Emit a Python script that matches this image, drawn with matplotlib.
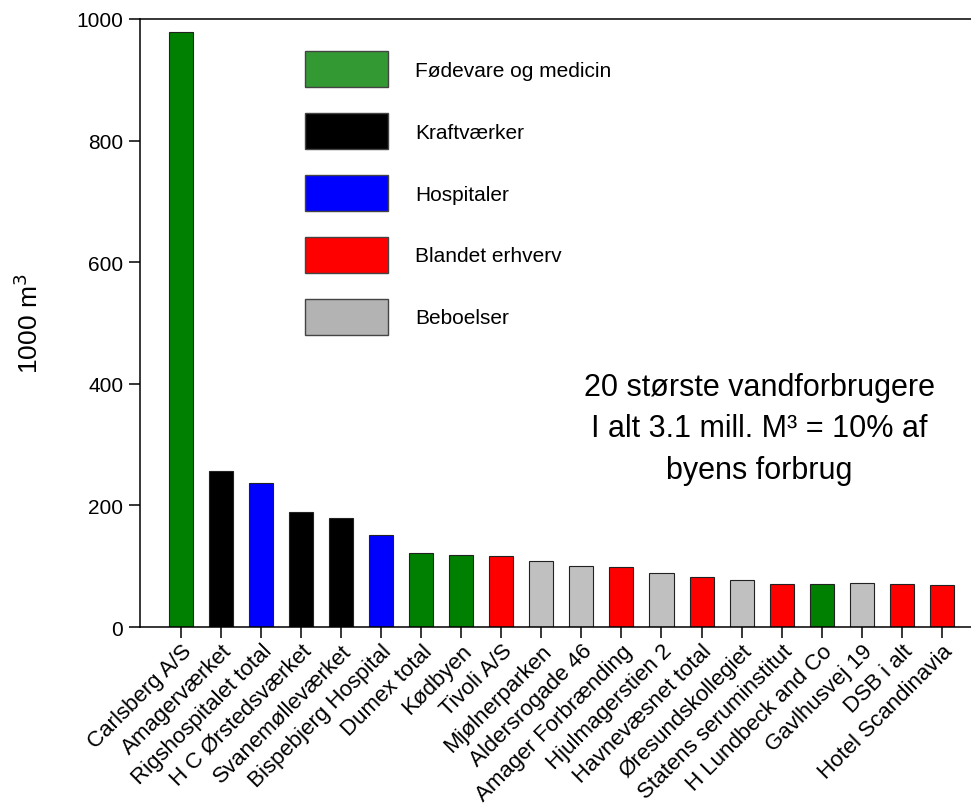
import matplotlib
matplotlib.use("Agg")
import matplotlib.pyplot as plt
from matplotlib.patches import Patch

plt.rcParams['font.family'] = ['Liberation Sans', 'DejaVu Sans']

# data
names = ['Carlsberg A/S', 'Amagerværket', 'Rigshospitalet total', 'H C Ørstedsværket',
         'Svanemølleværket', 'Bispebjerg Hospital', 'Dumex total', 'Kødbyen', 'Tivoli A/S',
         'Mjølnerparken', 'Aldersrogade 46', 'Amager Forbrænding', 'Hjulmagerstien 2',
         'Havnevæsnet total', 'Øresundskollegiet', 'Statens seruminstitut',
         'H Lundbeck and Co', 'Gavlhusvej 19', 'DSB i alt', 'Hotel Scandinavia']
values = [979, 256, 237, 189, 180, 151, 121, 118, 117, 108, 100, 98, 88, 82, 77, 71, 71, 72, 70, 69]
groups = ['F', 'K', 'H', 'K', 'K', 'H', 'F', 'F', 'B', 'R', 'R', 'B', 'R', 'B', 'R', 'B', 'F', 'R', 'B', 'B']

group_keys = ['F', 'K', 'H', 'B', 'R']
group_labels = ['Fødevare og medicin', 'Kraftværker', 'Hospitaler', 'Blandet erhverv', 'Beboelser']
bar_col = {'F': '#008000', 'K': '#000000', 'H': '#0000ff', 'B': '#ff0000', 'R': '#c0c0c0'}
leg_col = {'F': '#339933', 'K': '#000000', 'H': '#0000ff', 'B': '#ff0000', 'R': '#b3b3b3'}

fig = plt.figure(figsize=(9.71, 8.12), dpi=100)
ax = fig.add_axes([0.1442, 0.2266, 0.8558, 0.7488])

x = list(range(len(names)))
ax.bar(x, values, width=0.6, color=[bar_col[g] for g in groups],
       edgecolor='#222222', linewidth=0.8, zorder=2)

ax.set_xlim(-1.024, 19.73)
ax.set_ylim(0, 1000)
ax.set_yticks([0, 200, 400, 600, 800, 1000])
ax.set_xticks(x)
ax.set_xticklabels(names, rotation=45, ha='right', va='top', rotation_mode='anchor', fontsize=16)
ax.tick_params(axis='both', direction='out', length=8, width=1.1, pad=4)
ax.tick_params(axis='x', pad=1.5)
ax.tick_params(axis='y', labelsize=15)
ax.spines['right'].set_visible(False)
for s in ['left', 'bottom', 'top']:
    ax.spines[s].set_linewidth(1.1)

ax.set_ylabel('1000 m$^3$', fontsize=19, labelpad=24)

handles = [Patch(facecolor=leg_col[k], edgecolor='#444444', linewidth=1) for k in group_keys]
ax.legend(handles, group_labels, loc='upper left', bbox_to_anchor=(0.314, 0.936),
          bbox_transform=fig.transFigure, frameon=False, fontsize=15,
          handlelength=4.0, handleheight=2.32, labelspacing=1.22, handletextpad=1.3,
          borderpad=0, borderaxespad=0)

ax.text(0.745, 0.327, '20 største vandforbrugere\nI alt 3.1 mill. M³ = 10% af\nbyens forbrug',
        transform=ax.transAxes, ha='center', va='center', fontsize=22, linespacing=1.5)

fig.savefig('out.png', dpi=100)
